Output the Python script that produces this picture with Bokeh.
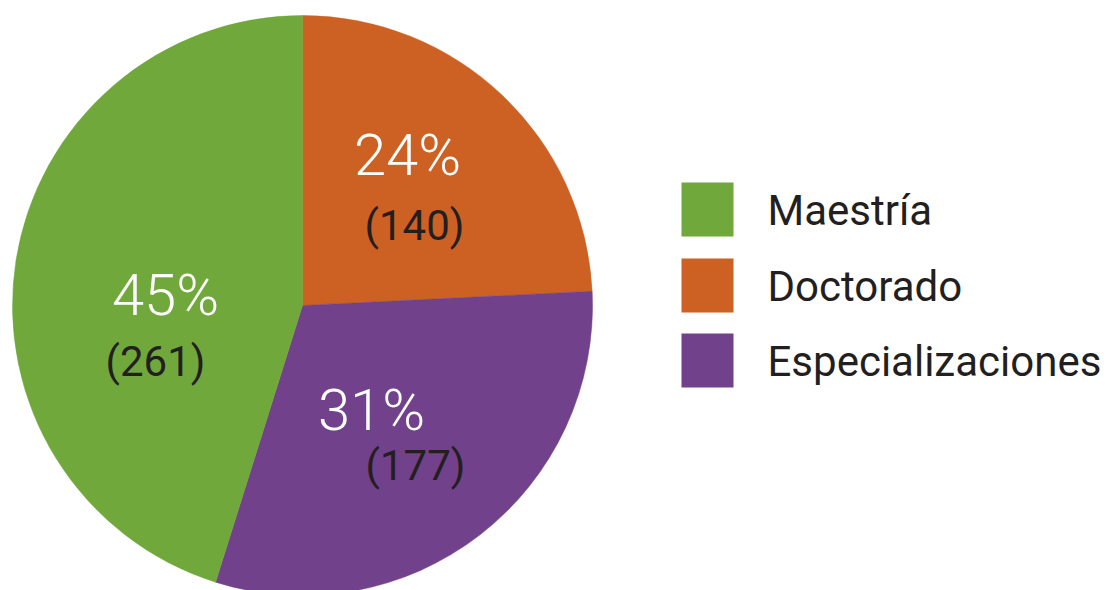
import math
from bokeh.plotting import figure
from bokeh.models import Range1d, ColumnDataSource
from bokeh.core.properties import value
from bokeh.embed import file_html
from bokeh.resources import INLINE

# ---- data ----
categories = ["Maestría", "Doctorado", "Especializaciones"]
counts = [261, 140, 177]
colors = ["#71a83b", "#cd6123", "#72418b"]

# ---- layout (page pixels) ----
W, H = 1105, 590
def dx(sx):
    return sx
def dy(sy):
    return H - sy

center = (dx(302), dy(305))
radius = 290
# label anchor positions (screen px)
pct_pos = {"Maestría": (165, 294), "Doctorado": (407, 154), "Especializaciones": (371, 409)}
cnt_pos = {"Maestría": (155, 361), "Doctorado": (414, 225), "Especializaciones": (415, 465)}
# pie order clockwise from 12 o'clock
pie_order = ["Doctorado", "Especializaciones", "Maestría"]

total = sum(counts)
start_angles, end_angles, wcolors = [], [], []
ang = math.pi / 2
for name in pie_order:
    i = categories.index(name)
    sweep = 2 * math.pi * counts[i] / total
    start_angles.append(ang)
    end_angles.append(ang - sweep)
    wcolors.append(colors[i])
    ang -= sweep

p = figure(width=W, height=H, x_range=Range1d(0, W), y_range=Range1d(0, H),
           output_backend="svg", toolbar_location=None, min_border=0)
p.axis.visible = False
p.grid.visible = False
p.outline_line_color = None
p.background_fill_color = "white"

src = ColumnDataSource(dict(x=[center[0]] * 3, y=[center[1]] * 3,
                            s=start_angles, e=end_angles, c=wcolors))
p.wedge(x="x", y="y", radius=radius, start_angle="e", end_angle="s",
        fill_color="c", line_color="c", line_width=0.5, source=src)

pct_txt = [f"{round(c / total * 100)}%" for c in counts]
px = [dx(pct_pos[n][0]) for n in categories]
py = [dy(pct_pos[n][1]) for n in categories]
p.text(x=px, y=py, text=pct_txt, text_color="white", text_font_size="58px",
       text_font=value("Roboto Light, Roboto"), text_align="center",
       text_baseline="alphabetic")

cnt_txt = [f"({c})" for c in counts]
cx = [dx(cnt_pos[n][0]) for n in categories]
cy = [dy(cnt_pos[n][1]) for n in categories]
p.text(x=cx, y=cy, text=cnt_txt, text_color="#231f20", text_font_size="42px",
       text_font=value("Roboto"), text_align="center", text_baseline="alphabetic")

# legend
leg_x0, leg_x1 = 681, 733
leg_top = [182, 258, 333]
leg_h = 54
for i, name in enumerate(categories):
    t = leg_top[i]
    p.quad(left=dx(leg_x0), right=dx(leg_x1), top=dy(t), bottom=dy(t + leg_h),
           fill_color=colors[i], line_color=None)
p.text(x=[dx(767)] * 3, y=[dy(t + 28) for t in leg_top], text=categories,
       text_color="#231f20", text_font_size="42px", text_font=value("Roboto"),
       text_align="left", text_baseline="alphabetic")

open("out.html", "w").write(file_html(p, INLINE))
